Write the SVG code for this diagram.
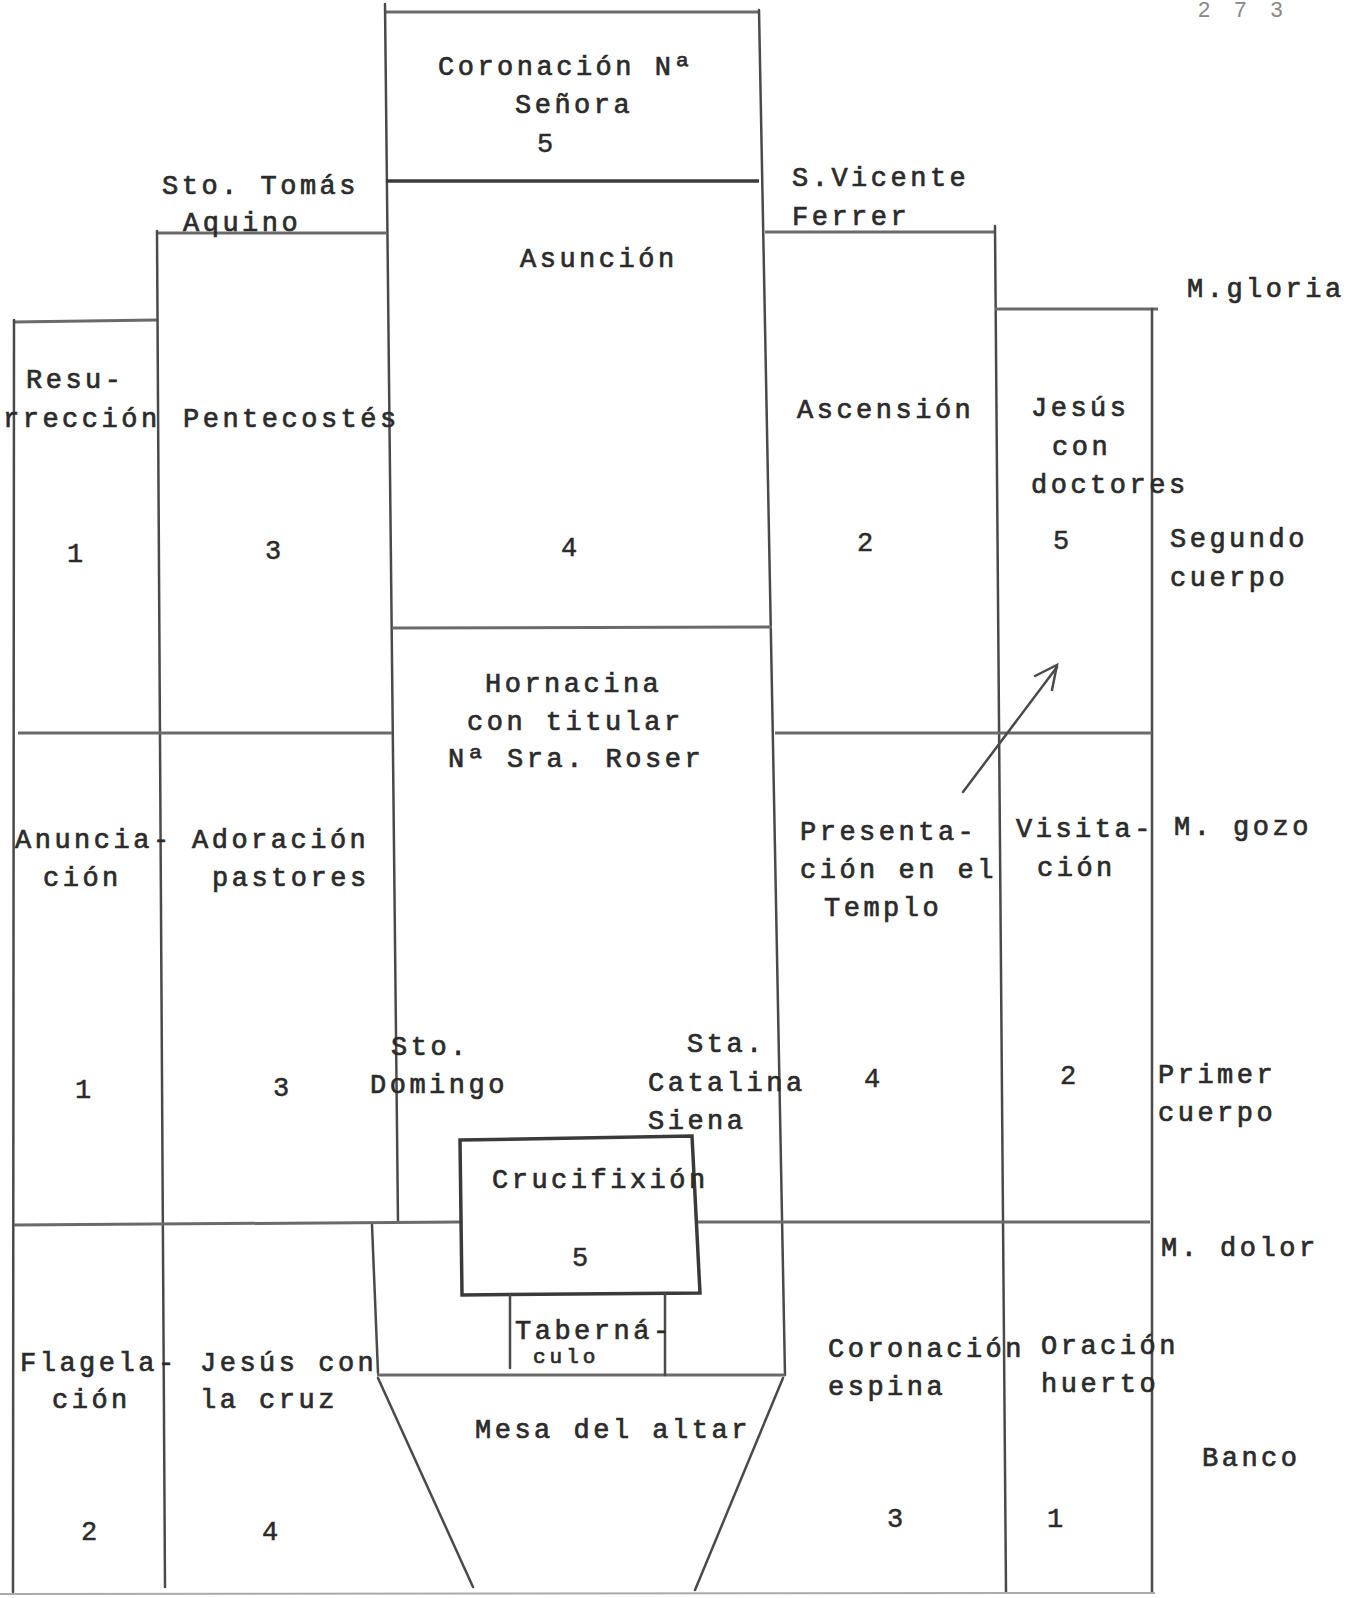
<svg xmlns="http://www.w3.org/2000/svg" width="1358" height="1598" viewBox="0 0 1358 1598">
<style>
.t{font-family:"Liberation Mono","DejaVu Sans Mono",monospace;font-size:27px;letter-spacing:3.5px;fill:#2b2b2b;stroke:#2b2b2b;stroke-width:0.7}
.n{font-family:"Liberation Mono","DejaVu Sans Mono",monospace;font-size:27px;fill:#2b2b2b;stroke:#2b2b2b;stroke-width:0.5;text-anchor:middle}
.l{stroke:#4a4a4a;stroke-width:2.5;fill:none;stroke-linecap:round}
.h{stroke:#6a6a6a;stroke-width:3;fill:none}
.b{stroke:#3a3a3a;stroke-width:3.5;fill:none}
.f{stroke:#aaa;stroke-width:2;fill:none}
</style>
<rect width="1358" height="1598" fill="#fff"/>
<g id="lines">
  <line class="h" x1="386" y1="12" x2="759" y2="12"/>
  <line class="l" x1="385" y1="4" x2="398" y2="1222"/>
  <line class="l" x1="759" y1="10" x2="785" y2="1375"/>
  <line class="b" x1="386" y1="181" x2="759" y2="181"/>
  <line class="h" x1="392" y1="628" x2="772" y2="627"/>
  <line class="h" x1="13" y1="322" x2="157" y2="320"/>
  <line class="l" x1="14" y1="320" x2="13" y2="1592"/>
  <line class="h" x1="157" y1="233" x2="387" y2="233"/>
  <line class="l" x1="157" y1="231" x2="165" y2="1587"/>
  <line class="h" x1="18" y1="733" x2="392" y2="733"/>
  <line class="h" x1="14" y1="1225" x2="460" y2="1222"/>
  <line class="l" x1="372" y1="1225" x2="378" y2="1373"/>
  <line class="h" x1="377" y1="1375" x2="785" y2="1375"/>
  <line class="l" x1="378" y1="1378" x2="473" y2="1587"/>
  <line class="l" x1="783" y1="1378" x2="695" y2="1590"/>
  <polygon class="b" points="460,1140 692,1136 700,1293 462,1295"/>
  <line class="l" x1="510" y1="1295" x2="510" y2="1368"/>
  <line class="l" x1="665" y1="1294" x2="665" y2="1375"/>
  <line class="h" x1="765" y1="232" x2="995" y2="232"/>
  <line class="l" x1="995" y1="226" x2="1006" y2="1592"/>
  <line class="h" x1="995" y1="309" x2="1158" y2="309"/>
  <line class="l" x1="1152" y1="309" x2="1152" y2="1592"/>
  <line class="h" x1="775" y1="733" x2="1152" y2="733"/>
  <line class="h" x1="698" y1="1222" x2="1150" y2="1222"/>
  <line class="f" x1="0" y1="1594" x2="1155" y2="1593"/>
  <line class="l" x1="963" y1="792" x2="1057" y2="667"/>
  <polyline class="l" points="1035,676 1057,665 1052,690"/>
</g>
<g id="page-number">
  <text x="1198" y="17" style="font-family:'Liberation Sans',sans-serif;font-size:22px;fill:#888;letter-spacing:24px">273</text>
</g>
<g id="coronacion-senora">
  <text class="t" x="438" y="75">Coronación Nª</text>
  <text class="t" x="515" y="113">Señora</text>
  <text class="n" x="545" y="152">5</text>
</g>
<g id="sto-tomas">
  <text class="t" x="162" y="194">Sto. Tomás</text>
  <text class="t" x="183" y="231">Aquino</text>
</g>
<g id="s-vicente">
  <text class="t" x="792" y="186">S.Vicente</text>
  <text class="t" x="792" y="225">Ferrer</text>
</g>
<g id="asuncion">
  <text class="t" x="520" y="267">Asunción</text>
  <text class="n" x="569" y="556">4</text>
</g>
<g id="m-gloria"><text class="t" x="1187" y="297">M.gloria</text></g>
<g id="resurreccion">
  <text class="t" x="26" y="388">Resu-</text>
  <text class="t" x="3" y="427">rrección</text>
  <text class="n" x="75" y="562">1</text>
</g>
<g id="pentecostes">
  <text class="t" x="183" y="427">Pentecostés</text>
  <text class="n" x="273" y="559">3</text>
</g>
<g id="ascension">
  <text class="t" x="797" y="418">Ascensión</text>
  <text class="n" x="865" y="551">2</text>
</g>
<g id="jesus-doctores">
  <text class="t" x="1031" y="416">Jesús</text>
  <text class="t" x="1052" y="455">con</text>
  <text class="t" x="1031" y="493">doctores</text>
  <text class="n" x="1061" y="549">5</text>
</g>
<g id="segundo-cuerpo">
  <text class="t" x="1170" y="547">Segundo</text>
  <text class="t" x="1170" y="586">cuerpo</text>
</g>
<g id="hornacina">
  <text class="t" x="485" y="692">Hornacina</text>
  <text class="t" x="467" y="730">con titular</text>
  <text class="t" x="448" y="767">Nª Sra. Roser</text>
</g>
<g id="anunciacion">
  <text class="t" x="15" y="848">Anuncia-</text>
  <text class="t" x="43" y="886">ción</text>
  <text class="n" x="83" y="1098">1</text>
</g>
<g id="adoracion">
  <text class="t" x="192" y="848">Adoración</text>
  <text class="t" x="212" y="886">pastores</text>
  <text class="n" x="281" y="1096">3</text>
</g>
<g id="presentacion">
  <text class="t" x="800" y="840">Presenta-</text>
  <text class="t" x="800" y="878">ción en el</text>
  <text class="t" x="824" y="916">Templo</text>
  <text class="n" x="872" y="1087">4</text>
</g>
<g id="visitacion">
  <text class="t" x="1016" y="837">Visita-</text>
  <text class="t" x="1037" y="876">ción</text>
  <text class="n" x="1068" y="1084">2</text>
</g>
<g id="m-gozo"><text class="t" x="1174" y="835">M. gozo</text></g>
<g id="sto-domingo">
  <text class="t" x="391" y="1055">Sto.</text>
  <text class="t" x="370" y="1093">Domingo</text>
</g>
<g id="sta-catalina">
  <text class="t" x="687" y="1052">Sta.</text>
  <text class="t" x="648" y="1091">Catalina</text>
  <text class="t" x="648" y="1129">Siena</text>
</g>
<g id="primer-cuerpo">
  <text class="t" x="1158" y="1083">Primer</text>
  <text class="t" x="1158" y="1121">cuerpo</text>
</g>
<g id="crucifixion">
  <text class="t" x="492" y="1188">Crucifixión</text>
  <text class="n" x="580" y="1266">5</text>
</g>
<g id="m-dolor"><text class="t" x="1161" y="1256">M. dolor</text></g>
<g id="tabernaculo">
  <text class="t" x="515" y="1339">Taberná-</text>
  <text class="t" x="533" y="1363" style="font-size:21px;letter-spacing:4px">culo</text>
</g>
<g id="flagelacion">
  <text class="t" x="20" y="1371">Flagela-</text>
  <text class="t" x="52" y="1408">ción</text>
  <text class="n" x="89" y="1540">2</text>
</g>
<g id="jesus-cruz">
  <text class="t" x="200" y="1371">Jesús con</text>
  <text class="t" x="200" y="1408">la cruz</text>
  <text class="n" x="270" y="1540">4</text>
</g>
<g id="mesa-altar"><text class="t" x="475" y="1438">Mesa del altar</text></g>
<g id="coronacion-espina">
  <text class="t" x="828" y="1357">Coronación</text>
  <text class="t" x="828" y="1395">espina</text>
  <text class="n" x="895" y="1527">3</text>
</g>
<g id="oracion-huerto">
  <text class="t" x="1041" y="1354">Oración</text>
  <text class="t" x="1041" y="1392">huerto</text>
  <text class="n" x="1055" y="1527">1</text>
</g>
<g id="banco"><text class="t" x="1202" y="1466">Banco</text></g>
</svg>
